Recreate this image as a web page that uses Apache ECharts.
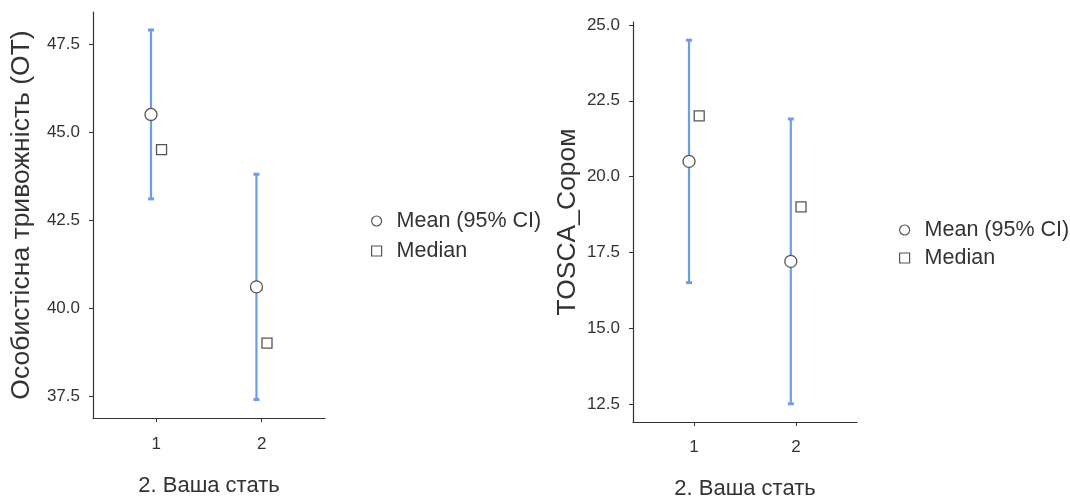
<!DOCTYPE html>
<html>
<head>
<meta charset="utf-8">
<script src="https://cdn.jsdelivr.net/npm/echarts@6/dist/echarts.min.js"></script>
<style>
html,body{margin:0;padding:0;background:#fff;}
#chart{width:1070px;height:497px;}
</style>
</head>
<body>
<div id="chart"></div>
<script>
// ---- data ----
const categories = [1, 2];
const categoryLabels = ['1', '2'];
const xTitle = '2. Ваша стать';

const titleOT = 'Особистісна тривожність (ОТ)';
const meanOT = [45.5, 40.6];
const ciLowOT = [43.1, 37.4];
const ciHighOT = [47.9, 43.8];
const medianOT = [44.5, 39.0];
const ticksOT = [37.5, 40.0, 42.5, 45.0, 47.5];

const titleTOSCA = 'TOSCA_Сором';
const meanTOSCA = [20.5, 17.2];
const ciLowTOSCA = [16.5, 12.5];
const ciHighTOSCA = [24.5, 21.9];
const medianTOSCA = [22.0, 19.0];
const ticksTOSCA = [12.5, 15.0, 17.5, 20.0, 22.5, 25.0];

const legendNames = ['Mean (95% CI)', 'Median'];

// ---- styling ----
const FONT = 'Liberation Sans';
const TXT = '#333';
const BLUE = '#6e9de8';
const MARK = '#555';
const DODGE = 0.05;

function xAxisCfg(gridIndex, gap, margin) {
  return {
    gridIndex, type: 'value', min: 0.4, max: 2.6,
    name: xTitle, nameLocation: 'middle', nameGap: gap,
    nameTextStyle: {fontFamily: FONT, fontSize: 22, color: TXT},
    axisLine: {show: true, lineStyle: {color: '#333', width: 1.2}},
    axisTick: {show: true, length: 4, customValues: categories, lineStyle: {color: '#333'}},
    axisLabel: {customValues: categories, margin: margin, fontFamily: FONT, fontSize: 17, color: TXT,
      formatter: v => categoryLabels[categories.indexOf(Math.round(v))] || ''},
    splitLine: {show: false}
  };
}
function yAxisCfg(gridIndex, min, max, ticks, title, gap) {
  return {
    gridIndex, type: 'value', min, max,
    name: title, nameLocation: 'middle', nameGap: gap, nameRotate: 90,
    nameTextStyle: {fontFamily: FONT, fontSize: 26.5, color: TXT},
    axisLine: {show: true, lineStyle: {color: '#333', width: 1.2}},
    axisTick: {show: true, length: 4, customValues: ticks, lineStyle: {color: '#333'}},
    axisLabel: {customValues: ticks, margin: 13, fontFamily: FONT, fontSize: 17, color: TXT,
      formatter: v => Number(v).toFixed(1)},
    splitLine: {show: false}
  };
}

function errorSeries(idx, lows, highs) {
  const data = categories.map((c, i) => [c - DODGE, lows[i], highs[i]]);
  return {
    type: 'custom', name: 'CI', xAxisIndex: idx, yAxisIndex: idx, silent: true,
    data,
    encode: {x: 0, y: [1, 2]},
    renderItem: function (params, api) {
      const x = api.value(0);
      const lo = api.coord([x, api.value(1)]);
      const hi = api.coord([x, api.value(2)]);
      const cw = 3;
      const style = {stroke: BLUE, lineWidth: 2.2, fill: null};
      return {
        type: 'group', children: [
          {type: 'line', shape: {x1: lo[0], y1: lo[1], x2: hi[0], y2: hi[1]}, style},
          {type: 'line', shape: {x1: hi[0] - cw, y1: hi[1], x2: hi[0] + cw, y2: hi[1]}, style: {stroke: BLUE, lineWidth: 3}},
          {type: 'line', shape: {x1: lo[0] - cw, y1: lo[1], x2: lo[0] + cw, y2: lo[1]}, style: {stroke: BLUE, lineWidth: 3}}
        ]
      };
    },
    z: 2
  };
}
function meanSeries(idx, means) {
  return {
    type: 'scatter', name: legendNames[0], xAxisIndex: idx, yAxisIndex: idx,
    data: categories.map((c, i) => [c - DODGE, means[i]]),
    symbol: 'circle', symbolSize: 12,
    itemStyle: {color: '#fff', borderColor: MARK, borderWidth: 1.3, opacity: 1},
    z: 5
  };
}
function medianSeries(idx, medians) {
  return {
    type: 'scatter', name: legendNames[1], xAxisIndex: idx, yAxisIndex: idx,
    data: categories.map((c, i) => [c + DODGE, medians[i]]),
    symbol: 'rect', symbolSize: 10,
    itemStyle: {color: '#fff', borderColor: MARK, borderWidth: 1.3, opacity: 1},
    z: 5
  };
}
function legendCfg(left, top, gap) {
  return {
    data: legendNames, orient: 'vertical', left, top,
    itemWidth: 10, itemHeight: 10, itemGap: gap, selectedMode: false,
    textStyle: {fontFamily: FONT, fontSize: 21.5, color: TXT, padding: [0, 0, 0, 10]},
    itemStyle: {color: '#fff', borderColor: MARK, borderWidth: 1.2}
  };
}

const chart = echarts.init(document.getElementById('chart'), null, {renderer: 'canvas'});
chart.setOption({
  backgroundColor: '#fff',
  animation: false,
  grid: [
    {left: 93, top: 12, width: 232, height: 406, containLabel: false, outerBoundsMode: 'none'},
    {left: 633, top: 22, width: 224, height: 400, containLabel: false, outerBoundsMode: 'none'}
  ],
  xAxis: [xAxisCfg(0, 57, 18), xAxisCfg(1, 56, 17)],
  yAxis: [
    yAxisCfg(0, 36.875, 48.41, ticksOT, titleOT, 58),
    yAxisCfg(1, 11.9, 25.1, ticksTOSCA, titleTOSCA, 52)
  ],
  legend: [legendCfg(366, 205, 8), legendCfg(894, 214, 6)],
  series: [
    errorSeries(0, ciLowOT, ciHighOT), meanSeries(0, meanOT), medianSeries(0, medianOT),
    errorSeries(1, ciLowTOSCA, ciHighTOSCA), meanSeries(1, meanTOSCA), medianSeries(1, medianTOSCA)
  ]
});
</script>
</body>
</html>
